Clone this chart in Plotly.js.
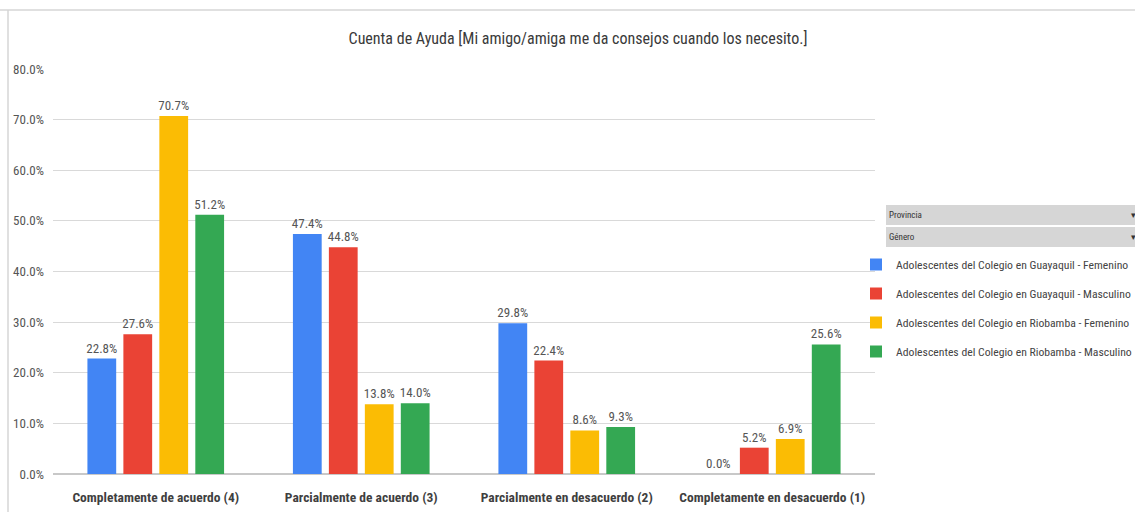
<!DOCTYPE html>
<html>
<head>
<meta charset="utf-8">
<script src="https://cdn.plot.ly/plotly-3.0.1.min.js"></script>
<style>html,body{margin:0;padding:0;background:#fff;overflow:hidden;}#chart{width:1135px;height:512px;}</style>
</head>
<body>
<div id="chart"></div>
<script>
const categories = ["Completamente de acuerdo (4)", "Parcialmente de acuerdo (3)", "Parcialmente en desacuerdo (2)", "Completamente en desacuerdo (1)"];
const seriesNames = ["Adolescentes del Colegio en Guayaquil - Femenino", "Adolescentes del Colegio en Guayaquil - Masculino", "Adolescentes del Colegio en Riobamba - Femenino", "Adolescentes del Colegio en Riobamba - Masculino"];
const guayaquilFem = [22.8, 47.4, 29.8, 0.0];
const guayaquilMas = [27.6, 44.8, 22.4, 5.2];
const riobambaFem = [70.7, 13.8, 8.6, 6.9];
const riobambaMas = [51.2, 14.0, 9.3, 25.6];
const tickVals = [0, 10, 20, 30, 40, 50, 60, 70, 80];
const colors = ["#4285F4", "#EA4335", "#FBBC04", "#34A853"];
const FONT = "'Roboto Condensed', 'Roboto', sans-serif";

const seriesValues = [guayaquilFem, guayaquilMas, riobambaFem, riobambaMas];
const traces = seriesValues.map((vals, i) => ({
  type: 'bar',
  name: seriesNames[i],
  x: categories,
  y: vals,
  marker: {color: colors[i]},
  texttemplate: '%{y:.1f}%',
  textposition: 'outside',
  constraintext: 'none',
  textfont: {family: FONT, size: 13, color: '#555'},
  cliponaxis: false,
  legendgroup: 'g' + i,
  hoverinfo: 'x+y+name'
}));

const L = 53, T = 69, W = 822, H = 405;
const px = x => (x - L) / W;
const py = y => (T + H - y) / H;

const layout = {
  width: 1135, height: 512,
  margin: {l: L, r: 1135 - L - W, t: T, b: 512 - T - H, autoexpand: false},
  paper_bgcolor: '#fff', plot_bgcolor: '#fff',
  font: {family: FONT, color: '#444'},
  title: {text: 'Cuenta de Ayuda [Mi amigo/amiga me da consejos cuando los necesito.]',
          font: {family: FONT, size: 16, color: '#3a3a3a'},
          xref: 'container', x: 578 / 1135, xanchor: 'center',
          yref: 'container', y: 1 - 38 / 512, yanchor: 'middle'},
  barmode: 'group', bargap: 0.3, bargroupgap: 0.2,
  xaxis: {tickfont: {family: FONT, size: 13.5, color: '#3f3f3f', weight: 'bold'}, tickangle: 0, automargin: false,
          ticklabelstandoff: 13, showline: false, ticks: '', fixedrange: true},
  yaxis: {range: [0, 80], tickvals: tickVals, ticktext: tickVals.map(v => v.toFixed(1) + '%'), automargin: false,
          ticklabelstandoff: 8,
          tickfont: {family: FONT, size: 13, color: '#555'}, gridcolor: '#d9d9d9', gridwidth: 1,
          zeroline: true, zerolinecolor: '#c8c8c8', zerolinewidth: 2, showline: false, ticks: '', fixedrange: true},
  showlegend: true,
  legend: {x: px(856), xanchor: 'left', y: py(250), yanchor: 'top', bgcolor: 'rgba(0,0,0,0)',
           font: {family: FONT, size: 11.7, color: '#444'}, tracegroupgap: 10, itemwidth: 30, traceorder: 'grouped'},
  shapes: [
    {type: 'line', xref: 'paper', yref: 'paper', x0: px(0), x1: px(1135), y0: py(10), y1: py(10), line: {color: '#d6d6d6', width: 1.5}},
    {type: 'line', xref: 'paper', yref: 'paper', x0: px(8), x1: px(8), y0: py(10), y1: py(512), line: {color: '#d6d6d6', width: 1.5}},
    {type: 'rect', xref: 'paper', yref: 'paper', x0: px(886), x1: px(1140), y0: py(205), y1: py(225), fillcolor: '#d6d6d6', line: {width: 0}},
    {type: 'rect', xref: 'paper', yref: 'paper', x0: px(886), x1: px(1140), y0: py(227), y1: py(247), fillcolor: '#d6d6d6', line: {width: 0}}
  ],
  annotations: [
    {xref: 'paper', yref: 'paper', x: px(887), y: py(215), xanchor: 'left', yanchor: 'middle', text: 'Provincia', showarrow: false, font: {family: FONT, size: 9, color: '#333'}},
    {xref: 'paper', yref: 'paper', x: px(887), y: py(237), xanchor: 'left', yanchor: 'middle', text: 'Género', showarrow: false, font: {family: FONT, size: 9, color: '#333'}},
    {xref: 'paper', yref: 'paper', x: px(1129), y: py(215), xanchor: 'left', yanchor: 'middle', text: '▾', showarrow: false, font: {family: FONT, size: 9, color: '#333'}},
    {xref: 'paper', yref: 'paper', x: px(1129), y: py(237), xanchor: 'left', yanchor: 'middle', text: '▾', showarrow: false, font: {family: FONT, size: 9, color: '#333'}}
  ]
};

Plotly.newPlot('chart', traces, layout, {displayModeBar: false, responsive: false});
</script>
</body>
</html>
